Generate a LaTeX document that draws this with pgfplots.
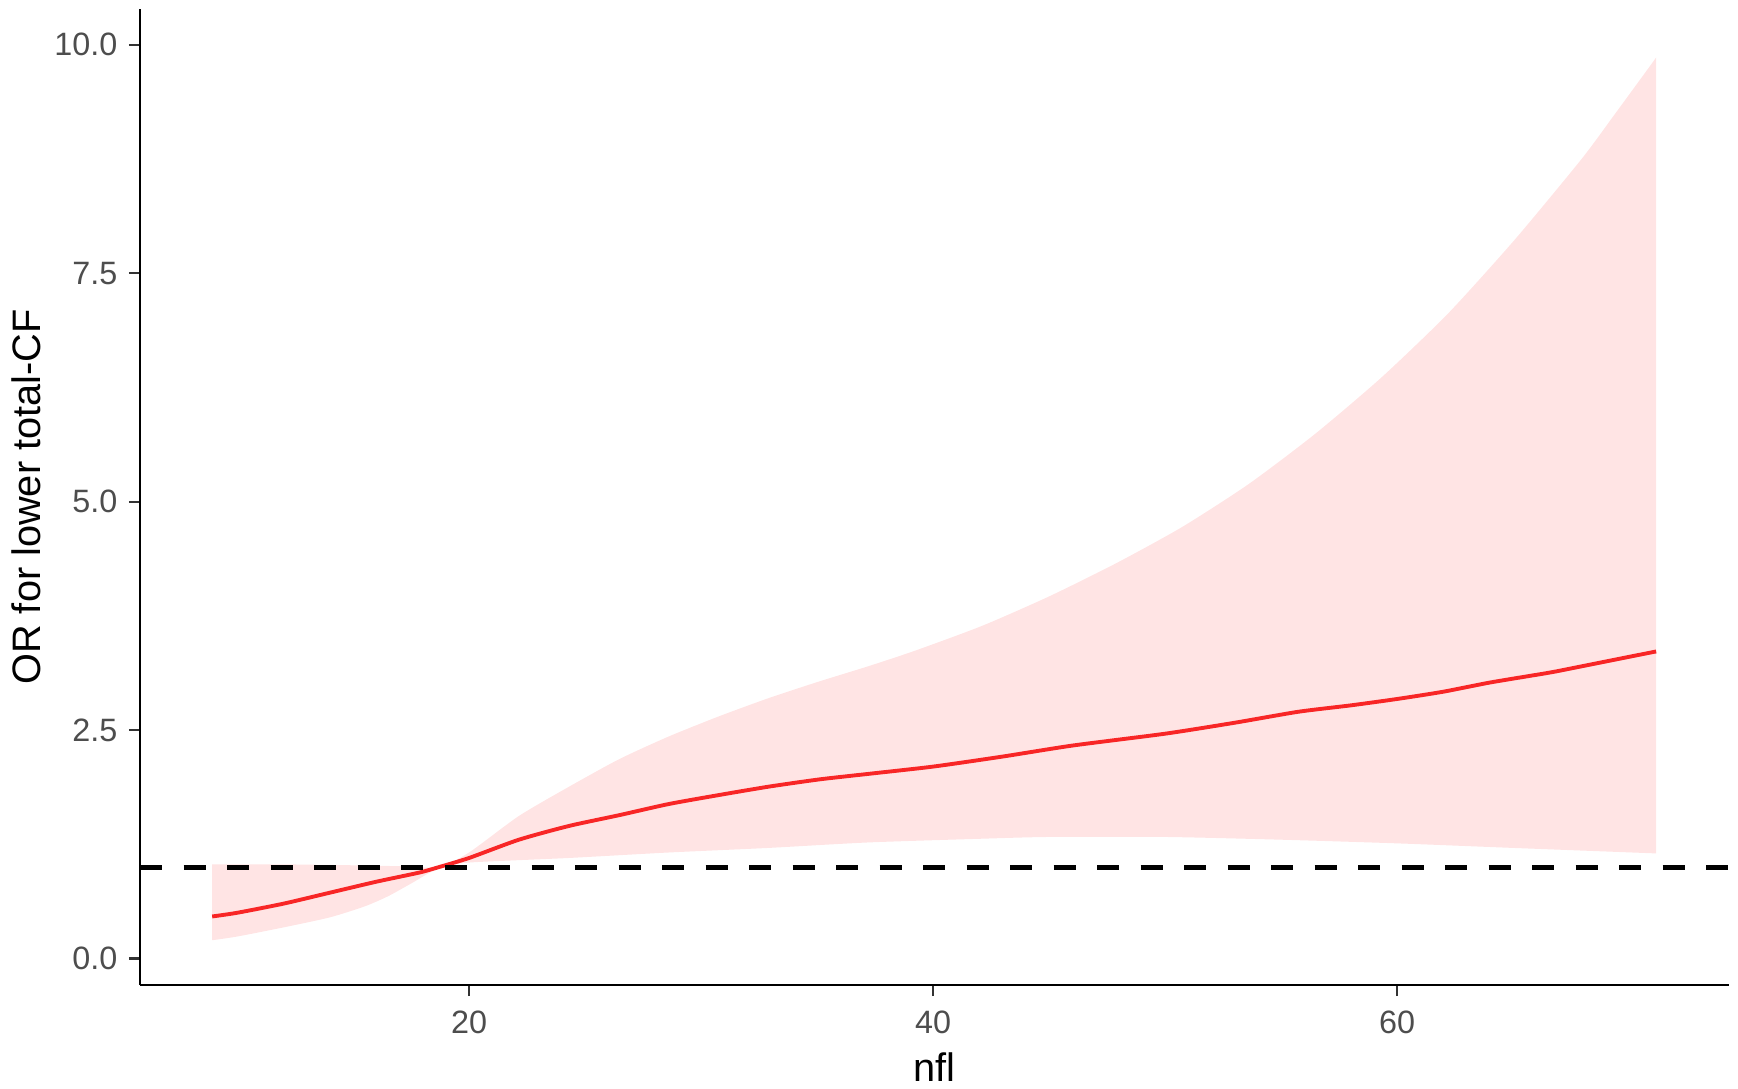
\documentclass[border=0pt]{standalone}
\usepackage{fontspec}
\setmainfont{Liberation Sans}
\usepackage{pgfplots}
\pgfplotsset{compat=1.18}
\usepgfplotslibrary{fillbetween}
\definecolor{bandfill}{RGB}{255,228,228}
\definecolor{linered}{RGB}{248,38,38}
\definecolor{ticklab}{RGB}{77,77,77}
\begin{document}
\begin{tikzpicture}
\begin{axis}[
  scale only axis, width=158.9mm, height=97.6mm,
  xmin=5.82, xmax=74.3, ymin=-0.29, ymax=10.39,
  axis x line=bottom, axis y line=left,
  axis line style={-, line width=0.6pt, black},
  xtick={20,40,60}, xticklabels={20,40,60},
  ytick={0,2.5,5,7.5,10}, yticklabels={0.0,2.5,5.0,7.5,10.0},
  tick align=outside, major tick length=1.1mm,
  tick style={line width=0.6pt, color=black!80},
  ticklabel style={font=\fontsize{9.2}{11}\selectfont, text=ticklab, inner sep=0pt},
  yticklabel style={anchor=east, xshift=-1.1mm},
  xticklabel style={anchor=north, yshift=-1.4mm},
  xlabel={nfl}, ylabel={OR for lower total-CF},
  label style={font=\fontsize{11.3}{13}\selectfont, text=black},
  xlabel style={at={(axis description cs:0.5,-0.084)}, anchor=center},
  ylabel style={at={(axis description cs:-0.0717,0.5)}, anchor=center},
  /pgf/number format/assume math mode=true,
]
\addplot[draw=none, name path=upper, forget plot, smooth, tension=0.4] coordinates {
 (8.93,1.03) (12,1.03) (15,1.02) (17,1.01) (18.7,1.0) (20,1.16) (22.15,1.56) (24.31,1.88)
 (26.46,2.18) (28.61,2.43) (30.77,2.65) (32.92,2.85) (35.07,3.03) (37.23,3.20) (39.24,3.37)
 (42.11,3.64) (44.98,3.96) (47.85,4.32) (50.72,4.72) (53.59,5.19) (56.46,5.74) (59.33,6.36)
 (62.2,7.06) (65.08,7.87) (67.95,8.75) (69.38,9.24) (70.82,9.74) (71.16,9.86)
};
\addplot[draw=none, name path=lower, forget plot, smooth, tension=0.4] coordinates {
 (8.93,0.20) (10,0.24) (12,0.34) (14,0.45) (15.5,0.57) (16.5,0.68) (17.5,0.82) (18.7,0.99) (20,1.05)
 (24.3,1.10) (28.6,1.16) (32.9,1.21) (37.2,1.27) (42,1.31) (45,1.33) (50,1.33)
 (55,1.30) (60,1.26) (65,1.21) (71.16,1.15)
};
\addplot[fill=bandfill, draw=none] fill between[of=upper and lower];
\addplot[color=linered, line width=1.1pt, smooth, tension=0.4] coordinates {
 (8.93,0.46) (10,0.50) (12,0.60) (14,0.72) (16,0.84) (17.85,0.94) (18.7,1.0) (20,1.10)
 (22.15,1.30) (24.3,1.45) (26.5,1.57) (28.6,1.69) (30.8,1.79) (32.9,1.88) (35.1,1.96)
 (37.2,2.02) (40,2.10) (43,2.21) (46,2.33) (50,2.46) (53,2.58) (55.74,2.70)
 (58,2.77) (60,2.84) (62,2.92) (64,3.02) (66.6,3.13) (68,3.20) (71.16,3.36)
};
\addplot[black, line width=0.5mm, dash pattern=on 2.2mm off 2.15mm] coordinates {(5.82,1) (74.3,1)};
\end{axis}
\pgfresetboundingbox
\path[use as bounding box] (-14.0mm,-10.3mm) rectangle (159.8mm,98.5mm);
\end{tikzpicture}
\end{document}
